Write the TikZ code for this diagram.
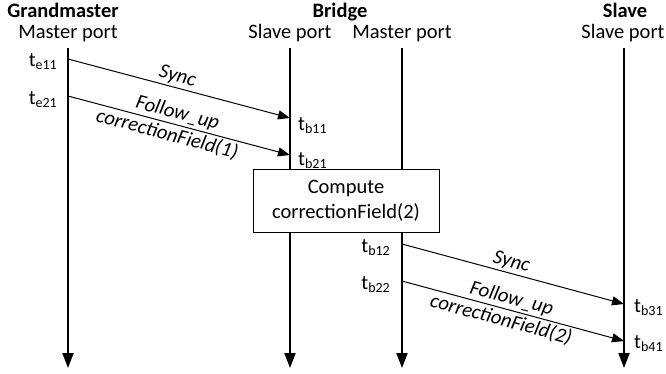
\documentclass[tikz,border=0pt]{standalone}
\usepackage{fontspec}
\setmainfont{Carlito}
\usetikzlibrary{arrows.meta}
\newcommand{\tsub}[1]{t\raisebox{-0.3ex}{\fontsize{14}{14}\selectfont #1}}
\begin{document}
\begin{tikzpicture}[x=1pt,y=-1pt,
  font=\fontsize{20.5}{25}\selectfont,
  life/.style={line width=2pt,-{Triangle[length=15pt,width=11pt]}},
  msg/.style={line width=1pt,-{Triangle[length=12pt,width=9pt]}},
  title/.style={font=\fontsize{20.5}{25}\selectfont\bfseries,anchor=base,inner sep=0pt},
  port/.style={anchor=base,inner sep=0pt},
  tl/.style={inner sep=0pt},
  onarrow/.style={sloped,inner sep=2pt}]
\useasboundingbox (0,0) rectangle (666,373);
% titles
\node[title] (tg) at (63,17) {Grandmaster};
\node[title] (tb) at (340,17) {Bridge};
\node[title] (ts) at (625,17) {Slave};
\node[port] (pg) at (68,38) {Master port};
\node[port] (pbs) at (290,38) {Slave port};
\node[port] (pbm) at (402,38) {Master port};
\node[port] (ps) at (623,38) {Slave port};
% lifeline coordinates
\coordinate (g0) at (68,48);  \coordinate (g1) at (68,368);
\coordinate (b0) at (290,48); \coordinate (b1) at (290,368);
\coordinate (m0) at (402,48); \coordinate (m1) at (402,368);
\coordinate (s0) at (624,48); \coordinate (s1) at (624,368);
\draw[life] (g0) -- (g1);
\draw[life] (b0) -- (b1);
\draw[life] (m0) -- (m1);
\draw[life] (s0) -- (s1);
% box
\node[draw,fill=white,line width=1pt,minimum width=186pt,minimum height=63pt,align=center,inner sep=0pt] (box) at (346,200.5) {Compute\\correctionField(2)};
% message coordinates
\coordinate (a1) at (68,59);   \coordinate (a2) at (290,118);
\coordinate (c1) at (68,96);   \coordinate (c2) at (290,155);
\coordinate (d1) at (402,244); \coordinate (d2) at (624,304);
\coordinate (f1) at (402,281); \coordinate (f2) at (624,341);
\draw[msg] (a1) -- node[onarrow,above,pos=0.48] (l1) {\itshape Sync} (a2);
\draw[msg] (c1) -- node[onarrow,above,pos=0.48] (l2) {\itshape Follow\_up}
                   node[onarrow,below,pos=0.46] (l3) {\itshape correctionField(1)} (c2);
\draw[msg] (d1) -- node[onarrow,above,pos=0.48] (l4) {\itshape Sync} (d2);
\draw[msg] (f1) -- node[onarrow,above,pos=0.48] (l5) {\itshape Follow\_up}
                   node[onarrow,below,pos=0.46] (l6) {\itshape correctionField(2)} (f2);
% time labels
\node[tl,anchor=east] (te11) at (57,62) {\tsub{e11}};
\node[tl,anchor=east] (te21) at (57,100) {\tsub{e21}};
\node[tl,anchor=west] (tb11) at (298,126) {\tsub{b11}};
\node[tl,anchor=west] (tb21) at (298,161) {\tsub{b21}};
\node[tl,anchor=east] (tb12) at (390,248) {\tsub{b12}};
\node[tl,anchor=east] (tb22) at (390,285) {\tsub{b22}};
\node[tl,anchor=west] (tb31) at (634,308) {\tsub{b31}};
\node[tl,anchor=west] (tb41) at (634,344) {\tsub{b41}};
\end{tikzpicture}
\end{document}
